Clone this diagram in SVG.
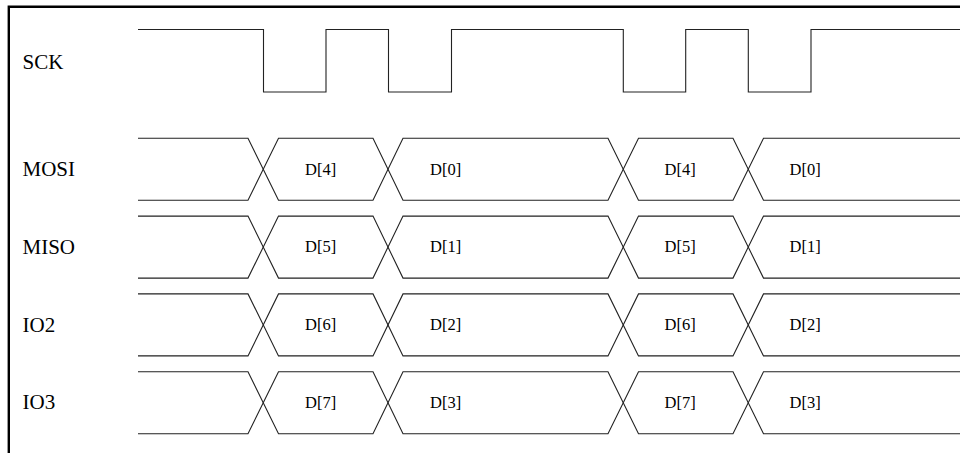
<svg xmlns="http://www.w3.org/2000/svg" width="960" height="453" viewBox="0 0 960 453">
<style>
.sig{fill:none;stroke:#222;stroke-width:1.1}
.frame{fill:none;stroke:#000;stroke-width:2.4}
.lbl{font-family:"Liberation Serif","Times New Roman",serif;font-size:21px;fill:#000}
.d{font-family:"Liberation Serif","Times New Roman",serif;font-size:16.5px;fill:#000}
</style>
<rect width="960" height="453" fill="#fff"/>
<path class="frame" d="M8.8 453 V6.7 H960"/>
<g id="sck">
<text class="lbl" x="22.5" y="68.5">SCK</text>
<path class="sig" d="M138 29.5 H263.5 V92 H326 V29.5 H388.5 V92 H451.5 V29.5 H623.3 V92 H685.7 V29.5 H748.3 V92 H811 V29.5 H960"/>
</g>
<g id="mosi">
<text class="lbl" x="22.5" y="176">MOSI</text>
<path class="sig" d="M138 138.3 H248 L278.5 200.3 H373 L403 138.3 H608 L638.5 200.3 H733 L763.5 138.3 H960"/>
<path class="sig" d="M138 200.3 H248 L278.5 138.3 H373 L403 200.3 H608 L638.5 138.3 H733 L763.5 200.3 H960"/>
<text class="d" x="305" y="174.5">D[4]</text>
<text class="d" x="430" y="174.5">D[0]</text>
<text class="d" x="664.5" y="174.5">D[4]</text>
<text class="d" x="789.5" y="174.5">D[0]</text>
</g>
<g id="miso" transform="translate(0,77.8)">
<text class="lbl" x="22.5" y="176">MISO</text>
<path class="sig" d="M138 138.3 H248 L278.5 200.3 H373 L403 138.3 H608 L638.5 200.3 H733 L763.5 138.3 H960"/>
<path class="sig" d="M138 200.3 H248 L278.5 138.3 H373 L403 200.3 H608 L638.5 138.3 H733 L763.5 200.3 H960"/>
<text class="d" x="305" y="174.5">D[5]</text>
<text class="d" x="430" y="174.5">D[1]</text>
<text class="d" x="664.5" y="174.5">D[5]</text>
<text class="d" x="789.5" y="174.5">D[1]</text>
</g>
<g id="io2" transform="translate(0,155.6)">
<text class="lbl" x="22.5" y="176">IO2</text>
<path class="sig" d="M138 138.3 H248 L278.5 200.3 H373 L403 138.3 H608 L638.5 200.3 H733 L763.5 138.3 H960"/>
<path class="sig" d="M138 200.3 H248 L278.5 138.3 H373 L403 200.3 H608 L638.5 138.3 H733 L763.5 200.3 H960"/>
<text class="d" x="305" y="174.5">D[6]</text>
<text class="d" x="430" y="174.5">D[2]</text>
<text class="d" x="664.5" y="174.5">D[6]</text>
<text class="d" x="789.5" y="174.5">D[2]</text>
</g>
<g id="io3" transform="translate(0,233.4)">
<text class="lbl" x="22.5" y="176">IO3</text>
<path class="sig" d="M138 138.3 H248 L278.5 200.3 H373 L403 138.3 H608 L638.5 200.3 H733 L763.5 138.3 H960"/>
<path class="sig" d="M138 200.3 H248 L278.5 138.3 H373 L403 200.3 H608 L638.5 138.3 H733 L763.5 200.3 H960"/>
<text class="d" x="305" y="174.5">D[7]</text>
<text class="d" x="430" y="174.5">D[3]</text>
<text class="d" x="664.5" y="174.5">D[7]</text>
<text class="d" x="789.5" y="174.5">D[3]</text>
</g>
</svg>
